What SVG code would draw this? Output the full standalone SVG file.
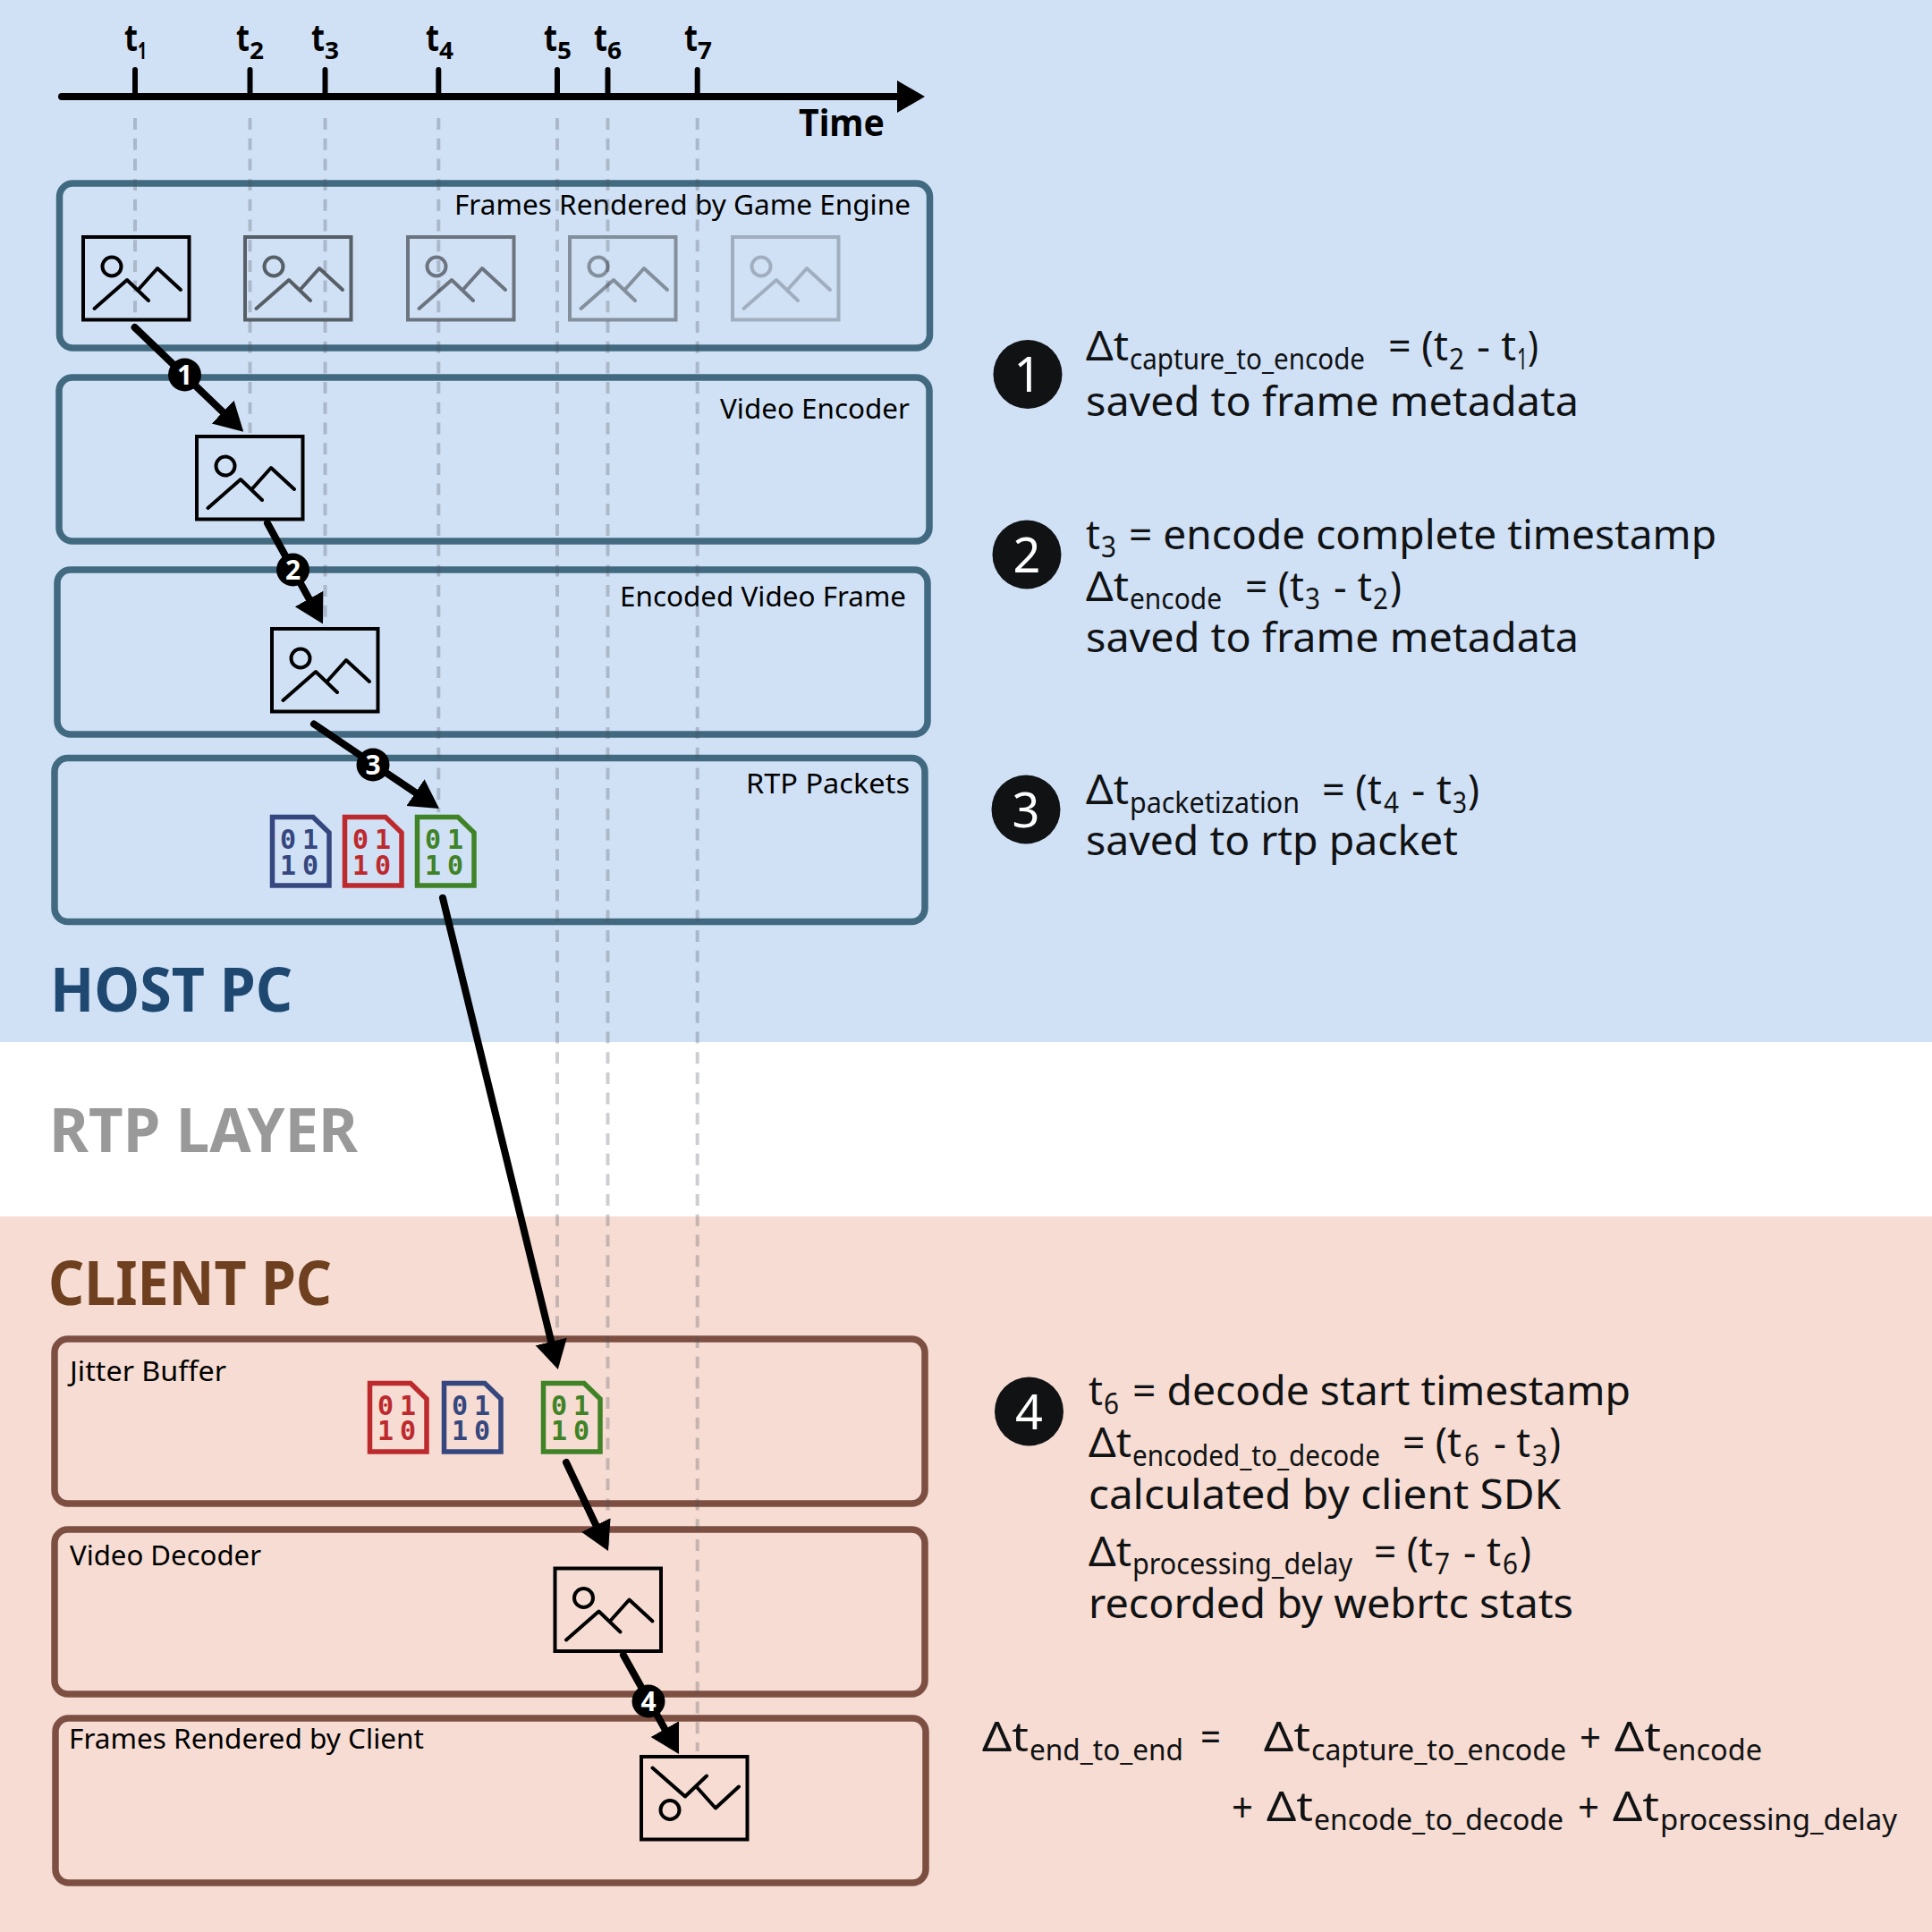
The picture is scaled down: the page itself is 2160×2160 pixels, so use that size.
<svg xmlns="http://www.w3.org/2000/svg" width="2160" height="2160" viewBox="0 0 2160 2160">
<style>
text{font-family:"Noto Sans","Open Sans","Liberation Sans",sans-serif;fill:#101214}
.m{font-size:46px}
.s{font-size:32px}
.l{font-size:30px;fill:#000}
.h{font-size:68px;font-weight:700}
.tk{font-size:42px;font-weight:700;fill:#000}
.ts{font-size:26px;font-weight:700}
.b{fill:#000}
.bt{font-size:30px;font-weight:700;fill:#fff;text-anchor:middle}
.ct{font-size:54px;fill:#fff;text-anchor:middle}
.c{fill:#101214}
.hb{fill:none;stroke:#41697f;stroke-width:7.5}
.cb{fill:none;stroke:#7c4f42;stroke-width:7.5}
.dash{stroke:#4a5058;stroke-opacity:.28;stroke-width:4;stroke-dasharray:13 9.7;fill:none}
.arrow{stroke:#000;stroke-width:8;stroke-linecap:round;fill:none;marker-end:url(#ah)}
.fb{fill:none;stroke:#000;stroke-width:4;stroke-linejoin:miter}
.fi{fill:none;stroke:#000;stroke-width:4;stroke-linecap:round;stroke-linejoin:round}
.pk{fill:none;stroke-width:5.5}
.d{font-family:"DejaVu Sans Mono","Liberation Mono",monospace;font-size:30px;font-weight:700;text-anchor:middle}
.blue{stroke:#36477f}.red{stroke:#bd2a2e}.green{stroke:#3f8326}
.tblue{fill:#36477f}.tred{fill:#bd2a2e}.tgreen{fill:#3f8326}
</style>
<defs>
<marker id="ah" markerUnits="userSpaceOnUse" markerWidth="40" markerHeight="40" refX="4" refY="20" viewBox="0 0 40 40" orient="auto"><path d="M0,2 L32,20 L0,38 Z" fill="#000"/></marker>
<g id="icon"><rect class="fb" x="1" y="1" width="118.5" height="92.5"/><circle class="fi" cx="33" cy="34" r="10.5"/><path class="fi" d="M13.5,81 L50,49 L74,72 M62.5,60 L84,36 L110,60"/></g>
<g id="packet"><path class="pk" d="M2.5,2.5 H48 L66,20 V79 H2.5 Z"/></g>
</defs>

<g id="backgrounds">
<rect x="0" y="0" width="2160" height="1165" fill="#d0e1f6"/>
<rect x="0" y="1165" width="2160" height="195" fill="#fff"/>
<rect x="0" y="1360" width="2160" height="800" fill="#f6dcd2"/>
</g>

<g id="region-labels">
<text class="h" x="56" y="1131" textLength="271" lengthAdjust="spacingAndGlyphs" style="fill:#1f4871">HOST PC</text>
<text class="h" x="55" y="1288" textLength="345" lengthAdjust="spacingAndGlyphs" style="fill:#999">RTP LAYER</text>
<text class="h" x="54" y="1459" textLength="317" lengthAdjust="spacingAndGlyphs" style="fill:#6e4020">CLIENT PC</text>
</g>

<g id="timeline">
<path d="M69,108 H1006" stroke="#000" stroke-width="8" stroke-linecap="round" fill="none"/>
<polygon points="1003,90 1034,108 1003,126" fill="#000"/>
<path d="M151,108 V78 M279.5,108 V78 M363.5,108 V78 M490.3,108 V78 M623,108 V78 M679.5,108 V78 M779.7,108 V78" stroke="#000" stroke-width="6" stroke-linecap="round" fill="none"/>
<text class="tk" x="139" y="57"><tspan textLength="15" lengthAdjust="spacingAndGlyphs">t</tspan><tspan class="ts" x="154" y="66" textLength="10" lengthAdjust="spacingAndGlyphs">1</tspan></text>
<text class="tk" x="264" y="57"><tspan textLength="15" lengthAdjust="spacingAndGlyphs">t</tspan><tspan class="ts" x="279" y="66" textLength="16" lengthAdjust="spacingAndGlyphs">2</tspan></text>
<text class="tk" x="348" y="57"><tspan textLength="15" lengthAdjust="spacingAndGlyphs">t</tspan><tspan class="ts" x="363" y="66" textLength="16" lengthAdjust="spacingAndGlyphs">3</tspan></text>
<text class="tk" x="476" y="57"><tspan textLength="15" lengthAdjust="spacingAndGlyphs">t</tspan><tspan class="ts" x="491" y="66" textLength="16" lengthAdjust="spacingAndGlyphs">4</tspan></text>
<text class="tk" x="608" y="57"><tspan textLength="15" lengthAdjust="spacingAndGlyphs">t</tspan><tspan class="ts" x="623" y="66" textLength="16" lengthAdjust="spacingAndGlyphs">5</tspan></text>
<text class="tk" x="664" y="57"><tspan textLength="15" lengthAdjust="spacingAndGlyphs">t</tspan><tspan class="ts" x="679" y="66" textLength="16" lengthAdjust="spacingAndGlyphs">6</tspan></text>
<text class="tk" x="765" y="57"><tspan textLength="15" lengthAdjust="spacingAndGlyphs">t</tspan><tspan class="ts" x="780" y="66" textLength="16" lengthAdjust="spacingAndGlyphs">7</tspan></text>
<text x="893" y="151.5" textLength="96" lengthAdjust="spacingAndGlyphs" style="font-size:41px;font-weight:700;fill:#000">Time</text>
</g>

<g id="box-frames-rendered"><rect class="hb" x="66.5" y="205" width="973" height="184" rx="15"/><text class="l" x="508" y="240" textLength="510" lengthAdjust="spacingAndGlyphs">Frames Rendered by Game Engine</text></g>
<g id="box-video-encoder"><rect class="hb" x="66" y="422" width="973" height="183" rx="15"/><text class="l" x="805" y="468" textLength="212" lengthAdjust="spacingAndGlyphs">Video Encoder</text></g>
<g id="box-encoded-frame"><rect class="hb" x="64" y="637" width="973" height="184" rx="15"/><text class="l" x="693" y="678" textLength="320" lengthAdjust="spacingAndGlyphs">Encoded Video Frame</text></g>
<g id="box-rtp-packets"><rect class="hb" x="61" y="847.5" width="973" height="183" rx="15"/><text class="l" x="834" y="887" textLength="183" lengthAdjust="spacingAndGlyphs">RTP Packets</text></g>
<g id="box-jitter-buffer"><rect class="cb" x="61" y="1497" width="973" height="184" rx="15"/><text class="l" x="78" y="1544" textLength="175" lengthAdjust="spacingAndGlyphs">Jitter Buffer</text></g>
<g id="box-video-decoder"><rect class="cb" x="61" y="1710" width="973" height="184" rx="15"/><text class="l" x="78" y="1749.5" textLength="214" lengthAdjust="spacingAndGlyphs">Video Decoder</text></g>
<g id="box-frames-client"><rect class="cb" x="62" y="1921" width="973" height="184" rx="15"/><text class="l" x="77" y="1955" textLength="397" lengthAdjust="spacingAndGlyphs">Frames Rendered by Client</text></g>

<g id="time-guides">
<path class="dash" d="M151,132 V350"/>
<path class="dash" d="M279.5,132 V484"/>
<path class="dash" d="M363.5,132 V700"/>
<path class="dash" d="M490.3,132 V908"/>
<path class="dash" d="M623,132 V1525"/>
<path class="dash" d="M679.5,132 V1728"/>
<path class="dash" d="M779.7,132 V1958"/>
</g>

<g id="frame-1"><use href="#icon" x="92" y="264"/></g>
<g id="frame-2" opacity=".58"><use href="#icon" x="273" y="264"/></g>
<g id="frame-3" opacity=".48"><use href="#icon" x="455" y="264"/></g>
<g id="frame-4" opacity=".36"><use href="#icon" x="636" y="264"/></g>
<g id="frame-5" opacity=".22"><use href="#icon" x="818" y="264"/></g>
<g id="frame-encoder"><use href="#icon" x="219" y="487"/></g>
<g id="frame-encoded"><use href="#icon" x="303" y="702"/></g>
<g id="frame-decoder"><use href="#icon" x="619.5" y="1752.5"/></g>
<g id="frame-client"><use href="#icon" transform="translate(716,2057.5) scale(1,-1)"/></g>

<g id="packet-host-blue"><use href="#packet" x="302" y="911" class="blue"/><text class="d tblue" x="322" y="949">0</text><text class="d tblue" x="347" y="949">1</text><text class="d tblue" x="322" y="978">1</text><text class="d tblue" x="347" y="978">0</text></g>
<g id="packet-host-red"><use href="#packet" x="383" y="911" class="red"/><text class="d tred" x="403" y="949">0</text><text class="d tred" x="428" y="949">1</text><text class="d tred" x="403" y="978">1</text><text class="d tred" x="428" y="978">0</text></g>
<g id="packet-host-green"><use href="#packet" x="464" y="911" class="green"/><text class="d tgreen" x="484" y="949">0</text><text class="d tgreen" x="509" y="949">1</text><text class="d tgreen" x="484" y="978">1</text><text class="d tgreen" x="509" y="978">0</text></g>
<g id="packet-client-red"><use href="#packet" x="411" y="1544" class="red"/><text class="d tred" x="431" y="1582">0</text><text class="d tred" x="456" y="1582">1</text><text class="d tred" x="431" y="1610">1</text><text class="d tred" x="456" y="1610">0</text></g>
<g id="packet-client-blue"><use href="#packet" x="494" y="1544" class="blue"/><text class="d tblue" x="514" y="1582">0</text><text class="d tblue" x="539" y="1582">1</text><text class="d tblue" x="514" y="1610">1</text><text class="d tblue" x="539" y="1610">0</text></g>
<g id="packet-client-green"><use href="#packet" x="605" y="1544" class="green"/><text class="d tgreen" x="625" y="1582">0</text><text class="d tgreen" x="650" y="1582">1</text><text class="d tgreen" x="625" y="1610">1</text><text class="d tgreen" x="650" y="1610">0</text></g>

<g id="connectors">
<path class="arrow" d="M150.6,366 L252,463.4"/>
<path class="arrow" d="M299,585 L347.5,673"/>
<path class="arrow" d="M351,809.5 L467.8,888.4"/>
<path class="arrow" d="M495,1004 L617.2,1503.8"/>
<path class="arrow" d="M633,1635 L668,1708.7"/>
<path class="arrow" d="M697,1850.5 L745.3,1936.6"/>
</g>

<g id="badge-1"><circle class="b" cx="206.5" cy="419" r="18.5"/><text class="bt" x="206.5" y="430">1</text></g>
<g id="badge-2"><circle class="b" cx="327.5" cy="637" r="18.5"/><text class="bt" x="327.5" y="648">2</text></g>
<g id="badge-3"><circle class="b" cx="417" cy="855" r="18.5"/><text class="bt" x="417" y="866">3</text></g>
<g id="badge-4"><circle class="b" cx="725" cy="1902" r="18.5"/><text class="bt" x="725" y="1913">4</text></g>

<g id="note-1">
<circle class="c" cx="1149" cy="418.5" r="38.5"/><text class="ct" x="1149" y="438">1</text>
<text class="m" x="1214" y="403"><tspan textLength="48" lengthAdjust="spacingAndGlyphs">Δt</tspan><tspan class="s" x="1263" y="412.5" textLength="263" lengthAdjust="spacingAndGlyphs">capture_to_encode</tspan><tspan x="1552" y="403" textLength="67" lengthAdjust="spacingAndGlyphs">= (t</tspan><tspan class="s" x="1620" y="412.5" textLength="17" lengthAdjust="spacingAndGlyphs">2</tspan><tspan x="1651" y="403" textLength="44" lengthAdjust="spacingAndGlyphs">- t</tspan><tspan class="s" x="1696" y="412.5" textLength="12" lengthAdjust="spacingAndGlyphs">1</tspan><tspan x="1708" y="403" textLength="12" lengthAdjust="spacingAndGlyphs">)</tspan></text>
<text class="m" x="1214" y="465" textLength="551" lengthAdjust="spacingAndGlyphs">saved to frame metadata</text>
</g>

<g id="note-2">
<circle class="c" cx="1148" cy="620" r="38.5"/><text class="ct" x="1148" y="639.5">2</text>
<text class="m" x="1214" y="613.5"><tspan textLength="16" lengthAdjust="spacingAndGlyphs">t</tspan><tspan class="s" x="1231" y="622.5" textLength="17" lengthAdjust="spacingAndGlyphs">3</tspan><tspan x="1262" y="613.5" textLength="657" lengthAdjust="spacingAndGlyphs">= encode complete timestamp</tspan></text>
<text class="m" x="1214" y="671.5"><tspan textLength="48" lengthAdjust="spacingAndGlyphs">Δt</tspan><tspan class="s" x="1263" y="681" textLength="103" lengthAdjust="spacingAndGlyphs">encode</tspan><tspan x="1392" y="671.5" textLength="66" lengthAdjust="spacingAndGlyphs">= (t</tspan><tspan class="s" x="1459" y="681" textLength="17" lengthAdjust="spacingAndGlyphs">3</tspan><tspan x="1491" y="671.5" textLength="43" lengthAdjust="spacingAndGlyphs">- t</tspan><tspan class="s" x="1535" y="681" textLength="17" lengthAdjust="spacingAndGlyphs">2</tspan><tspan x="1554" y="671.5" textLength="13" lengthAdjust="spacingAndGlyphs">)</tspan></text>
<text class="m" x="1214" y="729" textLength="551" lengthAdjust="spacingAndGlyphs">saved to frame metadata</text>
</g>

<g id="note-3">
<circle class="c" cx="1147" cy="905" r="38.5"/><text class="ct" x="1147" y="924.5">3</text>
<text class="m" x="1214" y="899"><tspan textLength="48" lengthAdjust="spacingAndGlyphs">Δt</tspan><tspan class="s" x="1263" y="909" textLength="190" lengthAdjust="spacingAndGlyphs">packetization</tspan><tspan x="1478" y="899" textLength="67" lengthAdjust="spacingAndGlyphs">= (t</tspan><tspan class="s" x="1547" y="909" textLength="17" lengthAdjust="spacingAndGlyphs">4</tspan><tspan x="1578" y="899" textLength="45" lengthAdjust="spacingAndGlyphs">- t</tspan><tspan class="s" x="1624" y="909" textLength="16" lengthAdjust="spacingAndGlyphs">3</tspan><tspan x="1641" y="899" textLength="13" lengthAdjust="spacingAndGlyphs">)</tspan></text>
<text class="m" x="1214" y="956" textLength="416" lengthAdjust="spacingAndGlyphs">saved to rtp packet</text>
</g>

<g id="note-4">
<circle class="c" cx="1150.5" cy="1578" r="38.5"/><text class="ct" x="1150.5" y="1597.5">4</text>
<text class="m" x="1217" y="1571"><tspan textLength="16" lengthAdjust="spacingAndGlyphs">t</tspan><tspan class="s" x="1234" y="1580.5" textLength="17" lengthAdjust="spacingAndGlyphs">6</tspan><tspan x="1266" y="1571" textLength="557" lengthAdjust="spacingAndGlyphs">= decode start timestamp</tspan></text>
<text class="m" x="1217" y="1628.5"><tspan textLength="48" lengthAdjust="spacingAndGlyphs">Δt</tspan><tspan class="s" x="1266" y="1638.5" textLength="277" lengthAdjust="spacingAndGlyphs">encoded_to_decode</tspan><tspan x="1568" y="1628.5" textLength="66" lengthAdjust="spacingAndGlyphs">= (t</tspan><tspan class="s" x="1637" y="1638.5" textLength="17" lengthAdjust="spacingAndGlyphs">6</tspan><tspan x="1670" y="1628.5" textLength="41" lengthAdjust="spacingAndGlyphs">- t</tspan><tspan class="s" x="1713" y="1638.5" textLength="17" lengthAdjust="spacingAndGlyphs">3</tspan><tspan x="1732" y="1628.5" textLength="13" lengthAdjust="spacingAndGlyphs">)</tspan></text>
<text class="m" x="1217" y="1687" textLength="528" lengthAdjust="spacingAndGlyphs">calculated by client SDK</text>
<text class="m" x="1217" y="1750.5"><tspan textLength="48" lengthAdjust="spacingAndGlyphs">Δt</tspan><tspan class="s" x="1266" y="1760" textLength="246" lengthAdjust="spacingAndGlyphs">processing_delay</tspan><tspan x="1536" y="1750.5" textLength="66" lengthAdjust="spacingAndGlyphs">= (t</tspan><tspan class="s" x="1604" y="1760" textLength="17" lengthAdjust="spacingAndGlyphs">7</tspan><tspan x="1636" y="1750.5" textLength="42" lengthAdjust="spacingAndGlyphs">- t</tspan><tspan class="s" x="1680" y="1760" textLength="17" lengthAdjust="spacingAndGlyphs">6</tspan><tspan x="1699" y="1750.5" textLength="13" lengthAdjust="spacingAndGlyphs">)</tspan></text>
<text class="m" x="1217" y="1809" textLength="542" lengthAdjust="spacingAndGlyphs">recorded by webrtc stats</text>
</g>

<g id="note-total">
<text class="m" x="1098" y="1958"><tspan textLength="52" lengthAdjust="spacingAndGlyphs">Δt</tspan><tspan class="s" x="1151" y="1968" textLength="172" lengthAdjust="spacingAndGlyphs">end_to_end</tspan><tspan x="1342" y="1958" textLength="23" lengthAdjust="spacingAndGlyphs">=</tspan><tspan x="1413" y="1958" textLength="52" lengthAdjust="spacingAndGlyphs">Δt</tspan><tspan class="s" x="1466" y="1968" textLength="285" lengthAdjust="spacingAndGlyphs">capture_to_encode</tspan><tspan x="1766" y="1959" textLength="24" lengthAdjust="spacingAndGlyphs">+</tspan><tspan x="1805" y="1958" textLength="52" lengthAdjust="spacingAndGlyphs">Δt</tspan><tspan class="s" x="1858" y="1968" textLength="112" lengthAdjust="spacingAndGlyphs">encode</tspan></text>
<text class="m" x="1377" y="2037"><tspan textLength="24" lengthAdjust="spacingAndGlyphs">+</tspan><tspan x="1416" y="2036" textLength="52" lengthAdjust="spacingAndGlyphs">Δt</tspan><tspan class="s" x="1469" y="2046" textLength="279" lengthAdjust="spacingAndGlyphs">encode_to_decode</tspan><tspan x="1764" y="2037" textLength="24" lengthAdjust="spacingAndGlyphs">+</tspan><tspan x="1803" y="2036" textLength="52" lengthAdjust="spacingAndGlyphs">Δt</tspan><tspan class="s" x="1856" y="2046" textLength="265" lengthAdjust="spacingAndGlyphs">processing_delay</tspan></text>
</g>
</svg>
